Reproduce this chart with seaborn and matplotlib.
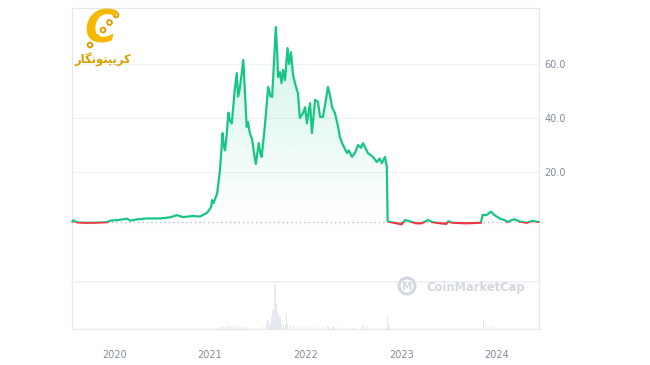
import numpy as np
import pandas as pd
import matplotlib
matplotlib.use("Agg")
import matplotlib.pyplot as plt
import matplotlib.dates as mdates
from matplotlib.patches import Rectangle, Circle
import seaborn as sns

# ---------------- data ----------------
price_dates = [
    "2019-07-25", "2019-07-29", "2019-08-03", "2019-08-15", "2019-09-10", "2019-10-15",
    "2019-11-15", "2019-12-05", "2019-12-17", "2020-01-16", "2020-02-19", "2020-03-02",
    "2020-04-01", "2020-05-06", "2020-06-24", "2020-08-01", "2020-08-28", "2020-09-20",
    "2020-10-28", "2020-11-24", "2020-12-21", "2021-01-05", "2021-01-09", "2021-01-15",
    "2021-01-20", "2021-01-28", "2021-02-08", "2021-02-18", "2021-02-22", "2021-02-27",
    "2021-03-05", "2021-03-12", "2021-03-18", "2021-03-25", "2021-04-05", "2021-04-13",
    "2021-04-18", "2021-04-23", "2021-04-30", "2021-05-08", "2021-05-14", "2021-05-21",
    "2021-05-26", "2021-06-02", "2021-06-11", "2021-06-18", "2021-06-25", "2021-07-06",
    "2021-07-12", "2021-07-17", "2021-07-29", "2021-08-06", "2021-08-11", "2021-08-20",
    "2021-08-26", "2021-09-03", "2021-09-09", "2021-09-14", "2021-09-18", "2021-09-25",
    "2021-10-01", "2021-10-07", "2021-10-14", "2021-10-24", "2021-10-30", "2021-11-06",
    "2021-11-14", "2021-11-21", "2021-12-03", "2021-12-10", "2021-12-22", "2021-12-30",
    "2022-01-06", "2022-01-12", "2022-01-18", "2022-01-25", "2022-02-06", "2022-02-17",
    "2022-02-25", "2022-03-08", "2022-03-20", "2022-03-27", "2022-04-05", "2022-04-12",
    "2022-04-23", "2022-05-05", "2022-05-12", "2022-05-20", "2022-06-08", "2022-06-15",
    "2022-06-27", "2022-07-08", "2022-07-20", "2022-08-01", "2022-08-08", "2022-08-27",
    "2022-09-15", "2022-09-30", "2022-10-10", "2022-10-19", "2022-10-31", "2022-11-07",
    "2022-11-10", "2022-11-14", "2022-11-30", "2022-12-15", "2023-01-02", "2023-01-16",
    "2023-02-08", "2023-02-25", "2023-03-20", "2023-04-13", "2023-05-02", "2023-05-30",
    "2023-06-22", "2023-06-30", "2023-07-15", "2023-09-05", "2023-11-01", "2023-11-08",
    "2023-11-23", "2023-12-10", "2023-12-22", "2024-01-11", "2024-01-30", "2024-02-10",
    "2024-03-07", "2024-03-28", "2024-04-24", "2024-05-15", "2024-06-09",
]
price_values = [
    1.6, 2.1, 1.8, 1.3, 1.2, 1.2,
    1.3, 1.4, 2.0, 2.2, 2.7, 2.0,
    2.5, 2.8, 2.8, 3.2, 4.0, 3.3,
    3.7, 3.5, 4.9, 7.0, 9.6, 8.5,
    10.0, 12.0, 20.7, 34.4, 30.0, 28.0,
    33.0, 42.0, 39.0, 38.0, 50.0, 56.6,
    48.0, 50.0, 55.0, 61.5, 50.0, 36.7,
    38.5, 34.4, 32.0, 27.0, 23.0, 30.7,
    27.0, 25.6, 36.7, 46.0, 51.5, 48.0,
    47.8, 62.0, 73.7, 65.0, 55.2, 57.0,
    52.9, 57.8, 54.0, 65.9, 60.0, 64.4,
    56.0, 53.0, 49.0, 40.0, 41.8, 44.0,
    38.0, 42.0, 45.5, 34.4, 46.7, 46.0,
    40.4, 40.4, 47.0, 51.5, 48.0, 44.0,
    41.8, 36.7, 33.0, 30.7, 27.0, 28.0,
    25.6, 27.0, 30.0, 29.0, 30.7, 27.0,
    25.6, 23.7, 25.0, 23.3, 25.6, 21.9,
    2.2, 1.6, 1.3, 1.0, 0.6, 2.2,
    1.6, 1.0, 1.0, 2.2, 1.4, 1.0,
    0.8, 1.8, 1.2, 1.0, 1.2, 4.1,
    4.1, 5.3, 4.1, 2.8, 2.2, 1.5,
    2.5, 1.7, 1.2, 1.9, 1.5,
]
baseline_price = 1.6

volume_dates = [
    "2019-09-01", "2019-12-01", "2020-03-01", "2020-06-01", "2020-09-01", "2020-12-01",
    "2021-01-10", "2021-01-25", "2021-02-10", "2021-02-20", "2021-03-01", "2021-03-15",
    "2021-03-25", "2021-04-05", "2021-04-15", "2021-04-25", "2021-05-08", "2021-05-20",
    "2021-06-01", "2021-06-20", "2021-07-10", "2021-07-25", "2021-08-05", "2021-08-10",
    "2021-08-18", "2021-08-25", "2021-08-29", "2021-09-03", "2021-09-06", "2021-09-10",
    "2021-09-13", "2021-09-17", "2021-09-21", "2021-09-25", "2021-10-01", "2021-10-08",
    "2021-10-15", "2021-10-21", "2021-10-25", "2021-11-05", "2021-11-15", "2021-12-01",
    "2021-12-15", "2022-01-05", "2022-01-20", "2022-02-05", "2022-02-20", "2022-03-10",
    "2022-03-27", "2022-04-15", "2022-05-10", "2022-06-01", "2022-07-01", "2022-08-05",
    "2022-08-15", "2022-08-25", "2022-09-15", "2022-10-15", "2022-11-10", "2022-11-15",
    "2022-12-15", "2023-02-01", "2023-04-01", "2023-06-01", "2023-08-01", "2023-11-10",
    "2023-11-20", "2023-12-10", "2024-01-10", "2024-03-01", "2024-05-01",
]
volume_values = [
    0.3, 0.3, 0.3, 0.4, 0.5, 0.6,
    1.0, 1.5, 2.5, 1.8, 2.0, 3.0,
    2.0, 3.5, 4.0, 2.5, 3.5, 2.5,
    1.5, 1.2, 1.5, 2.5, 6.0, 9.0,
    5.0, 12.0, 19.0, 30.0, 44.0, 20.0,
    26.0, 16.0, 8.0, 12.0, 6.0, 5.0,
    4.0, 17.0, 6.0, 4.0, 3.0, 2.5,
    3.5, 2.5, 3.0, 2.0, 2.5, 2.0,
    3.0, 2.0, 2.5, 1.5, 1.5, 3.5,
    4.0, 3.0, 1.5, 1.0, 14.0, 4.0,
    0.8, 0.6, 0.8, 0.6, 0.5, 9.0,
    3.0, 2.0, 1.0, 0.8, 0.6,
]

year_ticks = ["2020-01-01", "2021-01-01", "2022-01-01", "2023-01-01", "2024-01-01"]
year_labels = ["2020", "2021", "2022", "2023", "2024"]
price_ticks = [20, 40, 60]
logo_text = "کریپتونگار"
# presentation-form (visually shaped) version of the logo text, left-to-right glyph order
logo_glyphs = "\uFEAD\uFE8E\uFB95\uFEE7\uFEEE\uFE98\uFB59\uFBFE\uFEAE\uFB90"

# ---------------- styling ----------------
GREEN = "#16c784"
RED = "#ea3943"
GRID = "#eff1f4"
FRAME = "#e6e8ec"
TICK = "#808a9d"

sns.set_theme(style="white")
plt.rcParams["font.family"] = ["DejaVu Sans"]

df = pd.DataFrame({"date": pd.to_datetime(price_dates), "price": price_values})
vdf = pd.DataFrame({"date": pd.to_datetime(volume_dates), "volume": volume_values})

W, H = 650, 365
fig = plt.figure(figsize=(6.5, 3.65), dpi=100)
fig.patch.set_facecolor("white")

L, R, T, B = 72, 539, 8, 329
PB = 226   # bottom of price panel
VT = 282   # top of volume panel

def frac(x0, y0, x1, y1):
    return [x0 / W, 1 - y1 / H, (x1 - x0) / W, (y1 - y0) / H]

ax_bg = fig.add_axes(frac(L, T, R, B))
ax_bg.set_xticks([]); ax_bg.set_yticks([])
ax_bg.set_facecolor("none")
for s in ax_bg.spines.values():
    s.set_color(FRAME); s.set_linewidth(0.9)

ax = fig.add_axes(frac(L, T, R, PB))
axv = fig.add_axes(frac(L, VT, R, B))
for a in (ax, axv):
    a.set_facecolor("none")
    for s in a.spines.values():
        s.set_visible(False)

xmin = mdates.date2num(pd.Timestamp("2019-07-24"))
xmax = mdates.date2num(pd.Timestamp("2024-06-10"))
ymax = (PB - T) / 2.7

# gridlines
for v in [0] + price_ticks:
    ax.axhline(v, color=GRID if v else FRAME, lw=0.9, zorder=0)
ax.axhline(baseline_price, color="#aab2c0", lw=0.9, ls=(0, (1, 2.5)), zorder=1)

# gradient fill beneath line (above baseline)
poly = ax.fill_between(df["date"], baseline_price, df["price"], facecolor="none", edgecolor="none")
grad = np.zeros((256, 1, 4))
grad[:, 0, 0] = 22 / 255
grad[:, 0, 1] = 199 / 255
grad[:, 0, 2] = 132 / 255
grad[:, 0, 3] = np.linspace(0.0, 0.2, 256)
im = ax.imshow(grad, extent=[xmin, xmax, baseline_price, 74], aspect="auto",
               origin="lower", zorder=1, interpolation="bilinear")
im.set_clip_path(poly.get_paths()[0], transform=ax.transData)

# price line: green above baseline, red below
sns.lineplot(data=df, x="date", y="price", ax=ax, color=GREEN, lw=1.6, zorder=3)
sns.lineplot(data=df, x="date", y="price", ax=ax, color=RED, lw=1.6, zorder=3)
g_line, r_line = ax.lines[-2], ax.lines[-1]
g_clip = Rectangle((xmin - 100, baseline_price), (xmax - xmin) + 200, 500, transform=ax.transData)
r_clip = Rectangle((xmin - 100, -100), (xmax - xmin) + 200, 100 + baseline_price, transform=ax.transData)
g_line.set_clip_path(g_clip)
r_line.set_clip_path(r_clip)
for ln in (g_line, r_line):
    ln.set_solid_capstyle("round"); ln.set_solid_joinstyle("round")

ax.set_xlim(xmin, xmax)
ax.set_ylim(0, ymax)
ax.set_xlabel(""); ax.set_ylabel("")
ax.set_xticks([])
ax.yaxis.tick_right()
ax.set_yticks(price_ticks)
ax.set_yticklabels([f"{v:.1f}" for v in price_ticks])
ax.tick_params(axis="y", length=0, pad=4, labelsize=7, labelcolor=TICK)

# volume
axv.bar(vdf["date"], vdf["volume"], width=5, color="#e6e9ef", linewidth=0)
axv.spines["top"].set_visible(True)
axv.spines["top"].set_color(GRID)
axv.set_xlim(xmin, xmax)
axv.set_ylim(0, 47)
axv.set_yticks([])
axv.set_xticks(mdates.date2num(pd.to_datetime(year_ticks)))
axv.set_xticklabels(year_labels)
axv.tick_params(axis="x", length=0, pad=15, labelsize=7, labelcolor=TICK)

# CoinMarketCap watermark
fig.patches.append(Circle((407, H - 286), 8, transform=None, fill=False,
                          edgecolor="#d3d7df", lw=2.2))
fig.text(407 / W, 1 - 287 / H, "M", ha="center", va="center", fontsize=7.5,
         fontweight="bold", color="#d3d7df")
fig.text(426 / W, 1 - 287 / H, "CoinMarketCap", ha="left", va="center",
         fontsize=8.3, fontweight="bold", color="#d3d7df")

# logo (top-left)
fig.text(101 / W, 1 - 30 / H, "C", ha="center", va="center", fontsize=32,
         fontweight="bold", fontstyle="italic", color="#f6b800")
for i in range(5):
    fig.patches.append(Circle((90 + i * 6.5, H - (45 - i * 7.5)), 2.4, transform=None,
                              fill=False, edgecolor="#dc9a00", lw=1.3))
fig.text(103 / W, 1 - 60 / H, logo_glyphs, ha="center", va="center", fontsize=8.3,
         fontweight="bold", color="#d9a000", family=["DejaVu Sans"])

fig.savefig("out.png", dpi=100)
